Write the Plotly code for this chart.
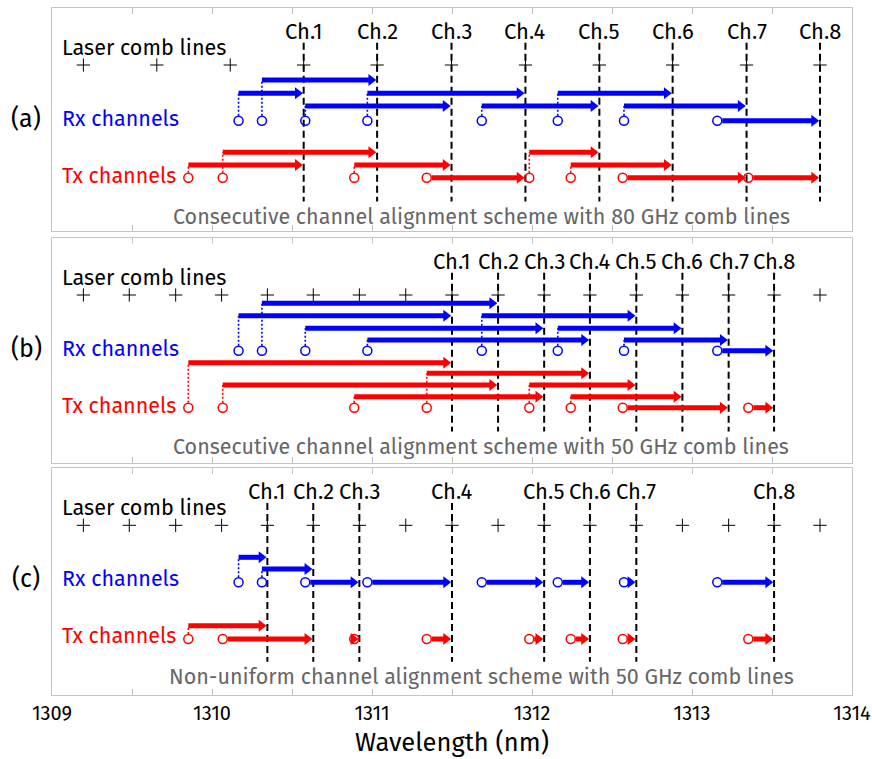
import plotly.graph_objects as go

# ---------------- data (wavelengths in nm) ----------------
comb_80 = [1309.196, 1309.655, 1310.114, 1310.573, 1311.032, 1311.497,
           1311.959, 1312.421, 1312.879, 1313.341, 1313.800]
comb_50 = [1309.196, 1309.483, 1309.773, 1310.060, 1310.346, 1310.633,
           1310.921, 1311.211, 1311.500, 1311.788, 1312.076, 1312.362,
           1312.652, 1312.940, 1313.229, 1313.513, 1313.800]
rx_wl = [1310.166, 1310.312, 1310.583, 1310.971, 1311.686, 1312.161, 1312.575, 1313.158]
tx_wl = [1309.852, 1310.067, 1310.889, 1311.342, 1311.983, 1312.242, 1312.567, 1313.352]
ch_names = ["Ch.1", "Ch.2", "Ch.3", "Ch.4", "Ch.5", "Ch.6", "Ch.7", "Ch.8"]

# comb-line index used by each channel, per scheme
ch_idx_a = [3, 4, 5, 6, 7, 8, 9, 10]
ch_idx_b = [8, 9, 10, 11, 12, 13, 14, 15]
ch_idx_c = [4, 5, 6, 8, 10, 11, 12, 15]

# arrow row (0 = top row) used by each Rx / Tx channel, per scheme
rx_row_a = [1, 0, 2, 1, 2, 1, 2, 3]
tx_row_a = [1, 0, 1, 2, 0, 1, 2, 2]
rx_row_b = [1, 0, 2, 3, 1, 2, 3, 4]
tx_row_b = [0, 2, 3, 1, 2, 3, 4, 4]
rx_row_c = [0, 1, 2, 2, 2, 2, 2, 2]
tx_row_c = [0, 1, 1, 1, 1, 1, 1, 1]

tags = ["(a)", "(b)", "(c)"]
captions = ["Consecutive channel alignment scheme with 80 GHz comb lines",
            "Consecutive channel alignment scheme with 50 GHz comb lines",
            "Non-uniform channel alignment scheme with 50 GHz comb lines"]

tick_vals = [1309, 1309.5, 1310, 1310.5, 1311, 1311.5, 1312, 1312.5, 1313, 1313.5, 1314]
tick_text = ["1309", "", "1310", "", "1311", "", "1312", "", "1313", "", "1314"]

# ---------------- layout / style ----------------
W, H = 872, 759
ML, MR, MT, MB = 52, 20, 8, 64
PLOT_W = W - ML - MR
PLOT_H = H - MT - MB
X0, X1 = 1309, 1314
PX_PER_NM = PLOT_W / (X1 - X0)

# panel pixel extents (top, bottom) measured from top of the page
panel_px = [(8, 231), (238, 463), (468.3, 695)]
# vertical row positions (px below panel top)
rx_rows = [[72, 85.3, 98, 112.7],
           [65.3, 77.7, 90.3, 102, 112.7],
           [89, 100.7, 114]]
tx_rows = [[144.3, 157, 169.7],
           [124.7, 135.3, 147, 158.7, 169.7],
           [157.4, 170.7]]
Y_CHLABEL, Y_COMBTXT, Y_COMB = 23, 39.5, 57
Y_DASH0, Y_DASH1 = 34.7, 193.5
Y_RXTXT, Y_TXTXT, Y_CAP = 111, 167.5, 208.5

FONT = "Fira Sans, Noto Sans, sans-serif"
BLUE, RED = "#0000FF", "#FF0000"
FRAME = "#C4C4C4"
HEAD = 10.5       # arrow head marker size (px)
CIRC = 9          # circle marker size (px)
tip_off = 0.577 * HEAD / PX_PER_NM
rad_off = (CIRC / 2 + 0.5) / PX_PER_NM

schemes = [
    (comb_80, ch_idx_a, rx_row_a, tx_row_a),
    (comb_50, ch_idx_b, rx_row_b, tx_row_b),
    (comb_50, ch_idx_c, rx_row_c, tx_row_c),
]

fig = go.Figure()
annotations = []


def arrows(wls, chans, rows_sel, rows, color, xa, ya, chans_wl):
    circ_y = rows[-1]
    sx, sy, hx, hy, dx, dy = [], [], [], [], [], []
    for wl, ci, r in zip(wls, chans, rows_sel):
        lvl = rows[r]
        end = chans_wl[ci]
        elevated = r != len(rows) - 1
        start = wl if elevated else wl + rad_off
        head_c = end - tip_off
        if head_c > start:
            sx += [start, head_c, None]
            sy += [lvl, lvl, None]
        hx.append(head_c)
        hy.append(lvl)
        if elevated:
            dx += [wl, wl, None]
            dy += [circ_y - CIRC / 2 - 0.5, lvl, None]
    fig.add_trace(go.Scatter(x=dx, y=dy, mode="lines", xaxis=xa, yaxis=ya,
                             line=dict(color=color, width=1.6, dash="2px,2px"),
                             hoverinfo="skip"))
    fig.add_trace(go.Scatter(x=sx, y=sy, mode="lines", xaxis=xa, yaxis=ya,
                             line=dict(color=color, width=5), hoverinfo="skip"))
    fig.add_trace(go.Scatter(x=hx, y=hy, mode="markers", xaxis=xa, yaxis=ya,
                             marker=dict(symbol="triangle-right", size=HEAD, color=color,
                                         line=dict(width=0)),
                             hoverinfo="skip"))
    fig.add_trace(go.Scatter(x=wls, y=[circ_y] * len(wls), mode="markers", xaxis=xa, yaxis=ya,
                             marker=dict(symbol="circle-open", size=CIRC, color=color,
                                         line=dict(width=1.5, color=color)),
                             hoverinfo="skip"))


for p, (comb, ch_idx, rx_sel, tx_sel) in enumerate(schemes):
    n = "" if p == 0 else str(p + 1)
    xa, ya = "x" + n, "y" + n
    chans_wl = {i: comb[i] for i in ch_idx}
    ch_wl = [comb[i] for i in ch_idx]

    # channel dashed lines
    dxs, dys = [], []
    for w in ch_wl:
        dxs += [w, w, None]
        dys += [Y_DASH0, Y_DASH1, None]
    fig.add_trace(go.Scatter(x=dxs, y=dys, mode="lines", xaxis=xa, yaxis=ya,
                             line=dict(color="black", width=2, dash="7px,4px"),
                             hoverinfo="skip"))
    # comb lines
    fig.add_trace(go.Scatter(x=comb, y=[Y_COMB] * len(comb), mode="markers",
                             xaxis=xa, yaxis=ya,
                             marker=dict(symbol="cross-thin", size=9.5,
                                         line=dict(width=1, color="black")),
                             hoverinfo="skip"))
    arrows(rx_wl, ch_idx, rx_sel, rx_rows[p], BLUE, xa, ya, chans_wl)
    arrows(tx_wl, ch_idx, tx_sel, tx_rows[p], RED, xa, ya, chans_wl)

    # texts
    for name, w in zip(ch_names, ch_wl):
        annotations.append(dict(x=w, y=Y_CHLABEL, xref=xa, yref=ya, text=name,
                                xanchor="center", showarrow=False,
                                font=dict(size=22, color="black")))
    lx = (60 - ML) / PLOT_W
    annotations.append(dict(x=lx, y=Y_COMBTXT, xref="paper", yref=ya, xanchor="left",
                            text="Laser comb lines", showarrow=False,
                            font=dict(size=21.6, color="black")))
    annotations.append(dict(x=lx, y=Y_RXTXT, xref="paper", yref=ya, xanchor="left",
                            text="Rx channels", showarrow=False,
                            font=dict(size=21.5, color=BLUE)))
    annotations.append(dict(x=lx, y=Y_TXTXT, xref="paper", yref=ya, xanchor="left",
                            text="Tx channels", showarrow=False,
                            font=dict(size=21.5, color=RED)))
    annotations.append(dict(x=(481 - ML) / PLOT_W, y=Y_CAP, xref="paper", yref=ya,
                            xanchor="center", text=captions[p], showarrow=False,
                            font=dict(size=21.5, color="#666666")))
    annotations.append(dict(x=(26 - ML) / PLOT_W, y=Y_RXTXT, xref="paper", yref=ya,
                            xanchor="center", text=tags[p], showarrow=False,
                            font=dict(size=25, color="black")))

    top, bot = panel_px[p]
    dom = [(H - MB - bot) / PLOT_H, (H - MB - top) / PLOT_H]
    bottom_panel = p == 2
    fig.layout["xaxis" + n] = dict(
        domain=[0, 1], anchor=ya, range=[X0, X1], tickvals=tick_vals, ticktext=tick_text,
        ticks="inside", ticklen=6, tickwidth=1, tickcolor=FRAME,
        showticklabels=bottom_panel, showline=True, linecolor=FRAME, linewidth=1,
        mirror="ticks", showgrid=False, zeroline=False, automargin=False,
        tickfont=dict(size=20, color="black"), ticklabelstandoff=0,
        title=dict(text="Wavelength (nm)" if bottom_panel else "",
                   font=dict(size=25.5, color="black"), standoff=9),
        **({} if p == 0 else {"matches": "x"}))
    fig.layout["yaxis" + n] = dict(
        domain=dom, anchor=xa, range=[bot - top, 0], showticklabels=False, ticks="",
        showline=True, linecolor=FRAME, linewidth=1, mirror=True,
        showgrid=False, zeroline=False, automargin=False)

fig.update_layout(width=W, height=H,
                  margin=dict(l=ML, r=MR, t=MT, b=MB, autoexpand=False),
                  plot_bgcolor="white", paper_bgcolor="white", showlegend=False,
                  font=dict(family=FONT, color="black"), annotations=annotations,
                  hovermode=False)

# the page body has a default 8px margin; remove it so the figure fills the window
fig.write_html("out.html", config={"displayModeBar": False},
               post_script="document.body.style.margin='0px';document.body.style.padding='0px';")
